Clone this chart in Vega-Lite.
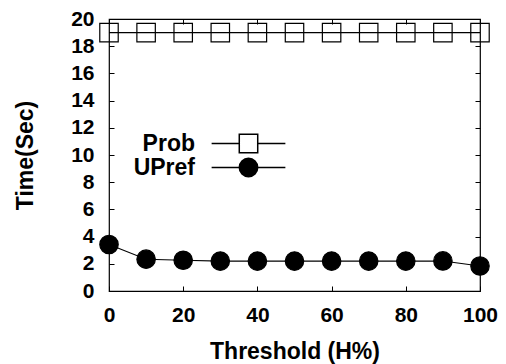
{
  "$schema": "https://vega.github.io/schema/vega-lite/v6.json",
  "width": 371,
  "height": 272,
  "autosize": {"type": "none"},
  "padding": {"left": 109, "top": 19, "right": 26, "bottom": 73},
  "background": "white",
  "config": {
    "view": {"stroke": "black", "strokeWidth": 1.2},
    "font": "Liberation Sans",
    "axis": {
      "domain": false,
      "grid": false,
      "labelFlush": false,
      "tickColor": "black",
      "tickSize": -5,
      "tickWidth": 1,
      "labelFont": "Liberation Sans",
      "labelFontWeight": "bold",
      "labelFontSize": 21,
      "labelColor": "black",
      "titleFont": "Liberation Sans",
      "titleFontWeight": "bold",
      "titleFontSize": 23,
      "titleColor": "black"
    }
  },
  "data": {
    "values": [
      {"h": 0, "t": 19, "s": "Prob"},
      {"h": 10, "t": 19, "s": "Prob"},
      {"h": 20, "t": 19, "s": "Prob"},
      {"h": 30, "t": 19, "s": "Prob"},
      {"h": 40, "t": 19, "s": "Prob"},
      {"h": 50, "t": 19, "s": "Prob"},
      {"h": 60, "t": 19, "s": "Prob"},
      {"h": 70, "t": 19, "s": "Prob"},
      {"h": 80, "t": 19, "s": "Prob"},
      {"h": 90, "t": 19, "s": "Prob"},
      {"h": 100, "t": 19, "s": "Prob"},
      {"h": 0, "t": 3.42, "s": "UPref"},
      {"h": 10, "t": 2.34, "s": "UPref"},
      {"h": 20, "t": 2.26, "s": "UPref"},
      {"h": 30, "t": 2.2, "s": "UPref"},
      {"h": 40, "t": 2.2, "s": "UPref"},
      {"h": 50, "t": 2.2, "s": "UPref"},
      {"h": 60, "t": 2.2, "s": "UPref"},
      {"h": 70, "t": 2.2, "s": "UPref"},
      {"h": 80, "t": 2.2, "s": "UPref"},
      {"h": 90, "t": 2.21, "s": "UPref"},
      {"h": 100, "t": 1.84, "s": "UPref"}
    ]
  },
  "layer": [
    {
      "mark": {"type": "line", "color": "black", "strokeWidth": 1.1},
      "encoding": {
        "x": {
          "field": "h", "type": "quantitative",
          "scale": {"domain": [0, 100], "nice": false},
          "axis": {"values": [0, 20, 40, 60, 80, 100], "title": "Threshold (H%)", "labelPadding": 18, "titlePadding": 15}
        },
        "y": {
          "field": "t", "type": "quantitative",
          "scale": {"domain": [0, 20], "nice": false},
          "axis": {"values": [0, 2, 4, 6, 8, 10, 12, 14, 16, 18, 20], "title": "Time(Sec)", "labelPadding": 20, "titlePadding": 33}
        },
        "detail": {"field": "s"}
      }
    },
    {
      "mark": {"type": "point", "stroke": "black", "strokeWidth": 1.2, "size": 340, "opacity": 1},
      "encoding": {
        "x": {
          "field": "h", "type": "quantitative",
          "axis": {"orient": "top", "values": [0, 20, 40, 60, 80, 100], "labels": false, "title": null}
        },
        "y": {
          "field": "t", "type": "quantitative",
          "axis": {"orient": "right", "values": [0, 2, 4, 6, 8, 10, 12, 14, 16, 18, 20], "labels": false, "title": null}
        },
        "shape": {
          "field": "s", "type": "nominal",
          "scale": {"domain": ["Prob", "UPref"], "range": ["square", "circle"]},
          "legend": null
        },
        "fill": {
          "field": "s", "type": "nominal",
          "scale": {"domain": ["Prob", "UPref"], "range": ["transparent", "black"]},
          "legend": null
        }
      }
    },
    {
      "mark": {"type": "point", "stroke": "black", "strokeWidth": 1.2, "size": 340, "opacity": 0},
      "encoding": {
        "x": {"field": "h", "type": "quantitative", "axis": null},
        "y": {"field": "t", "type": "quantitative", "axis": null},
        "shape": {
          "field": "s", "type": "nominal",
          "scale": {
            "domain": ["Prob", "UPref"],
            "range": [
              "M-4,0H-1M1,0H4M-1,-1H1V1H-1Z",
              "M-4,0H4M-1,0A1,1,0,1,0,1,0A1,1,0,1,0,-1,0M-0.92,0A0.92,0.92,0,1,0,0.92,0A0.92,0.92,0,1,0,-0.92,0M-0.84,0A0.84,0.84,0,1,0,0.84,0A0.84,0.84,0,1,0,-0.84,0M-0.76,0A0.76,0.76,0,1,0,0.76,0A0.76,0.76,0,1,0,-0.76,0M-0.68,0A0.68,0.68,0,1,0,0.68,0A0.68,0.68,0,1,0,-0.68,0M-0.6,0A0.6,0.6,0,1,0,0.6,0A0.6,0.6,0,1,0,-0.6,0M-0.52,0A0.52,0.52,0,1,0,0.52,0A0.52,0.52,0,1,0,-0.52,0M-0.44,0A0.44,0.44,0,1,0,0.44,0A0.44,0.44,0,1,0,-0.44,0M-0.36,0A0.36,0.36,0,1,0,0.36,0A0.36,0.36,0,1,0,-0.36,0M-0.28,0A0.28,0.28,0,1,0,0.28,0A0.28,0.28,0,1,0,-0.28,0M-0.2,0A0.2,0.2,0,1,0,0.2,0A0.2,0.2,0,1,0,-0.2,0M-0.12,0A0.12,0.12,0,1,0,0.12,0A0.12,0.12,0,1,0,-0.12,0M-0.05,0A0.05,0.05,0,1,0,0.05,0A0.05,0.05,0,1,0,-0.05,0"
            ]
          },
          "legend": {
            "title": null,
            "orient": "none",
            "legendX": 128,
            "legendY": 113,
            "symbolSize": 340,
            "labelAlign": "right",
            "labelOffset": -65,
            "labelFont": "Liberation Sans",
            "labelFontWeight": "bold",
            "labelFontSize": 23,
            "labelColor": "black",
            "rowPadding": -3,
            "encode": {
              "symbols": {
                "fill": {"value": {"expr": "datum.value === 'UPref' ? 'black' : 'transparent'"}},
                "stroke": {"value": "black"},
                "strokeWidth": {"value": 1.2},
                "opacity": {"value": 1}
              }
            }
          }
        }
      }
    }
  ],
  "resolve": {
    "scale": {"shape": "independent"},
    "axis": {"x": "independent", "y": "independent"}
  }
}
